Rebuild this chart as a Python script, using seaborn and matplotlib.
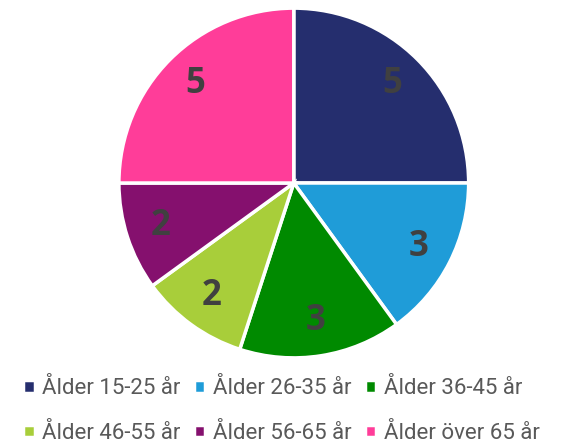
import matplotlib
matplotlib.use("Agg")
import matplotlib.pyplot as plt
import seaborn as sns

categories = ["Ålder 15-25 år", "Ålder 26-35 år", "Ålder 36-45 år",
              "Ålder 46-55 år", "Ålder 56-65 år", "Ålder över 65 år"]
values = [5, 3, 3, 2, 2, 5]
colors = ["#252e6e", "#1f9cd8", "#008a00", "#a8ce3a", "#85106e", "#ff3d99"]

sns.set_theme(style="white")
plt.rcParams['font.family'] = ['Lato', 'DejaVu Sans']

fig = plt.figure(figsize=(5.8, 4.48), dpi=100)
ax = fig.add_axes([0.205, 0.201, 0.603, 0.781])
total = sum(values)
wedges, texts, autotexts = ax.pie(
    values, colors=colors, startangle=90, counterclock=False,
    autopct=lambda p: f"{round(p * total / 100):d}", pctdistance=0.8,
    wedgeprops=dict(edgecolor="white", linewidth=2.5),
    textprops=dict(color="#404040", fontsize=25, fontweight="bold",
                   family=["Open Sans", "DejaVu Sans"]))
ax.set_aspect("equal")
ax.set_xlim(-1, 1)
ax.set_ylim(-1, 1)

order = [0, 3, 1, 4, 2, 5]
fig.legend([wedges[i] for i in order], [categories[i] for i in order],
           loc="upper left", bbox_to_anchor=(0.006, 0.2),
           ncol=3, frameon=False, labelcolor="#595959",
           prop=dict(family=["Roboto", "DejaVu Sans"], size=16),
           handlelength=0.5, handleheight=0.5, handletextpad=0.35,
           columnspacing=0.6, labelspacing=1.05)

fig.savefig("out.png", dpi=100)
